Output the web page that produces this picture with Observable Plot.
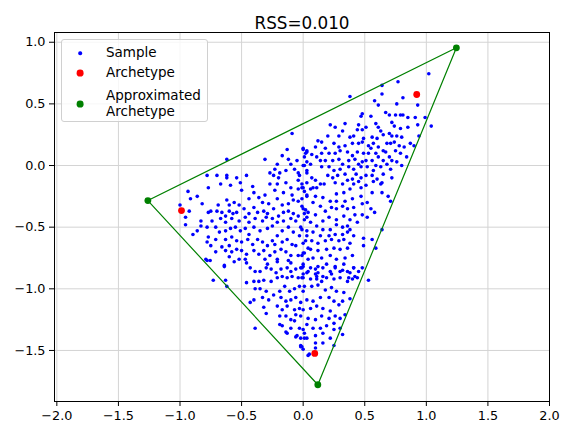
<!DOCTYPE html>
<html><head><meta charset="utf-8">
<script src="https://cdn.jsdelivr.net/npm/d3@7"></script>
<script src="https://cdn.jsdelivr.net/npm/@observablehq/plot@0.6"></script>
<style>
body{margin:0;background:#fff;font-family:"DejaVu Sans",sans-serif;}
#wrap{position:relative;width:569px;height:435px;}
.legend{position:absolute;left:61px;top:39px;width:147px;height:83px;border:1px solid #d0d0d0;border-radius:3px;background:rgba(255,255,255,0.8);font-size:13.5px;color:#000;box-sizing:border-box;}
.dot{position:absolute;border-radius:50%;transform:translate(-50%,-50%);}
.lab{position:absolute;left:44px;transform:translateY(-50%);line-height:15.7px;white-space:nowrap;}
</style>
</head><body>
<div id="wrap"></div>
<script>
const title = "RSS=0.010";
const xTicks = [-2.0, -1.5, -1.0, -0.5, 0.0, 0.5, 1.0, 1.5, 2.0];
const yTicks = [-1.5, -1.0, -0.5, 0.0, 0.5, 1.0];
const legendLabels = ["Sample", "Archetype", "Approximated\nArchetype"];
const archetypes = [[-0.988, -0.365], [0.922, 0.576], [0.094, -1.524]];
const approxArchetypes = [[-1.261, -0.284], [1.244, 0.955], [0.119, -1.778]];
const sample = [
// upper-left / outer band
[-0.09,0.26],[0.00,0.14],[0.03,0.12],[0.02,0.10],[-0.13,0.13],[-0.17,0.08],[-0.05,0.04],[-0.12,0.05],[-0.62,0.05],[-0.31,0.05],
[-0.10,0.01],[0.00,0.00],[0.03,0.03],[-0.21,0.01],[-0.23,-0.03],[-0.27,-0.06],[-0.14,-0.04],[-0.19,-0.06],[-0.07,-0.03],[-0.04,-0.06],
[-0.03,-0.08],[0.03,-0.04],[-0.78,-0.08],[-0.70,-0.08],[-0.62,-0.08],[-0.62,-0.10],[-0.54,-0.10],[-0.46,-0.08],[-0.24,-0.08],[-0.20,-0.10],
[-0.04,-0.12],[-0.01,-0.15],[0.03,-0.14],[-0.935,-0.21],[-0.04,-0.19],[0.01,-0.21],[0.03,-0.24],[-0.915,-0.27],[-0.04,-0.29],[0.00,-0.35],
[0.02,-0.36],[-1.00,-0.32],[-0.925,-0.37],[-0.955,-0.42],[-0.06,-0.45],[-0.04,-0.41],[0.01,-0.39],[0.03,-0.42],[-0.955,-0.48],[-0.895,-0.56],
[-0.02,-0.50],[0.03,-0.53],[-0.03,-0.57],[0.02,-0.61],[-0.06,-0.65],[0.00,-0.71],[0.04,-0.67],[-0.04,-0.73],[-0.78,-0.77],[-0.755,-0.77],
[-0.64,-0.81],[-0.56,-0.78],[-0.46,-0.79],[-0.29,-0.80],[-0.21,-0.78],[-0.10,-0.79],[0.00,-0.80],[0.04,-0.76],
// left lobe
[-0.77,-0.18],[-0.67,-0.15],[-0.59,-0.16],[-0.51,-0.14],[-0.41,-0.17],[-0.27,-0.15],[-0.21,-0.15],[-0.14,-0.14],[-0.10,-0.18],[-0.86,-0.25],
[-0.50,-0.20],[-0.40,-0.22],[-0.31,-0.24],[-0.23,-0.20],[-0.16,-0.22],[-0.09,-0.24],[-0.82,-0.31],[-0.75,-0.37],[-0.69,-0.32],[-0.62,-0.28],
[-0.60,-0.32],[-0.56,-0.30],[-0.52,-0.32],[-0.44,-0.27],[-0.36,-0.26],[-0.33,-0.30],[-0.28,-0.31],[-0.21,-0.27],[-0.17,-0.32],[-0.12,-0.31],
[-0.08,-0.28],[-0.77,-0.38],[-0.70,-0.37],[-0.66,-0.38],[-0.63,-0.41],[-0.60,-0.37],[-0.57,-0.39],[-0.54,-0.38],[-0.48,-0.35],[-0.44,-0.39],
[-0.40,-0.34],[-0.37,-0.38],[-0.32,-0.37],[-0.29,-0.39],[-0.24,-0.35],[-0.20,-0.41],[-0.16,-0.38],[-0.12,-0.37],[-0.08,-0.39],[-0.83,-0.45],
[-0.83,-0.49],[-0.74,-0.45],[-0.67,-0.43],[-0.63,-0.46],[-0.58,-0.43],[-0.52,-0.45],[-0.47,-0.42],[-0.44,-0.46],[-0.39,-0.43],[-0.33,-0.45],
[-0.30,-0.42],[-0.25,-0.43],[-0.21,-0.46],[-0.16,-0.45],[-0.10,-0.43],[-0.78,-0.50],[-0.71,-0.50],[-0.68,-0.54],[-0.63,-0.53],[-0.59,-0.51],
[-0.55,-0.50],[-0.51,-0.53],[-0.47,-0.51],[-0.44,-0.56],[-0.40,-0.50],[-0.35,-0.53],[-0.29,-0.51],[-0.25,-0.49],[-0.21,-0.57],[-0.17,-0.53],
[-0.12,-0.50],[-0.08,-0.54],[-0.86,-0.53],[-0.77,-0.58],[-0.78,-0.62],[-0.71,-0.60],[-0.63,-0.60],[-0.58,-0.58],[-0.54,-0.61],[-0.50,-0.62],
[-0.45,-0.60],[-0.41,-0.64],[-0.37,-0.60],[-0.33,-0.62],[-0.29,-0.65],[-0.25,-0.61],[-0.23,-0.64],[-0.17,-0.62],[-0.13,-0.60],[-0.09,-0.64],
[-0.75,-0.65],[-0.66,-0.66],[-0.60,-0.65],[-0.71,-0.70],[-0.63,-0.69],[-0.58,-0.70],[-0.54,-0.68],[-0.50,-0.69],[-0.46,-0.72],[-0.40,-0.69],
[-0.36,-0.72],[-0.32,-0.69],[-0.27,-0.73],[-0.23,-0.70],[-0.18,-0.68],[-0.14,-0.70],[-0.10,-0.73],[-0.79,-0.76],[-0.60,-0.74],[-0.52,-0.76],
[-0.47,-0.76],[-0.31,-0.76],[-0.21,-0.76],[-0.12,-0.77],
// upper-right tip and edges
[1.02,0.745],[0.64,0.65],[0.77,0.68],[0.38,0.56],[0.64,0.58],[0.58,0.525],[0.61,0.49],[0.81,0.55],[0.76,0.50],[0.93,0.49],
[0.99,0.39],[1.04,0.32],[0.12,0.20],[0.10,0.15],[0.10,-0.12],[0.07,-0.10],[0.06,0.01],[0.01,0.00],[0.00,0.13],[0.03,0.11],
[0.07,0.09],[0.11,0.07],[0.14,0.04],[0.14,-0.15],[-0.01,-0.18],[0.08,-0.18],[0.01,0.07],[0.03,-0.06],
// upper-right lobe
[0.48,0.42],[0.47,0.40],[0.55,0.40],[0.67,0.43],[0.70,0.41],[0.75,0.41],[0.79,0.41],[0.81,0.41],[0.85,0.39],[0.91,0.39],
[0.22,0.33],[0.26,0.31],[0.34,0.34],[0.45,0.33],[0.44,0.29],[0.48,0.29],[0.51,0.31],[0.59,0.34],[0.61,0.31],[0.63,0.28],
[0.72,0.35],[0.74,0.32],[0.79,0.30],[0.85,0.31],[0.93,0.33],[0.94,0.24],[0.20,0.24],[0.29,0.24],[0.32,0.28],[0.38,0.23],
[0.41,0.24],[0.49,0.22],[0.56,0.23],[0.60,0.22],[0.65,0.25],[0.70,0.26],[0.72,0.24],[0.76,0.24],[0.80,0.23],[0.71,0.18],
[0.15,0.19],[0.18,0.14],[0.25,0.18],[0.29,0.15],[0.34,0.16],[0.40,0.18],[0.45,0.18],[0.48,0.19],[0.53,0.16],[0.55,0.14],
[0.57,0.18],[0.61,0.15],[0.65,0.12],[0.68,0.18],[0.74,0.19],[0.78,0.16],[0.82,0.15],[0.87,0.18],[0.90,0.16],
[0.15,0.10],[0.21,0.10],[0.26,0.10],[0.30,0.12],[0.36,0.11],[0.40,0.08],[0.44,0.11],[0.49,0.10],[0.53,0.10],[0.59,0.10],
[0.61,0.07],[0.67,0.11],[0.70,0.07],[0.75,0.12],[0.79,0.10],[0.84,0.07],
[0.18,0.04],[0.24,0.04],[0.29,0.05],[0.32,0.01],[0.37,0.04],[0.42,0.05],[0.45,0.01],[0.48,0.03],[0.51,0.04],[0.56,0.04],
[0.59,0.00],[0.65,0.04],[0.68,0.01],[0.72,0.04],[0.76,0.03],[0.80,0.00],
[0.15,-0.01],[0.21,-0.01],[0.25,-0.04],[0.30,-0.03],[0.37,-0.01],[0.41,-0.03],[0.47,-0.01],[0.52,-0.01],[0.57,-0.04],[0.63,-0.01],
[0.65,-0.07],[0.71,-0.03],
[0.20,-0.08],[0.24,-0.10],[0.28,-0.08],[0.34,-0.07],[0.40,-0.11],[0.43,-0.07],[0.47,-0.10],[0.51,-0.08],[0.56,-0.08],[0.60,-0.11],
[0.64,-0.14],[0.72,-0.10],
[0.26,-0.14],[0.32,-0.15],[0.36,-0.12],[0.41,-0.15],[0.45,-0.13],[0.51,-0.16],[0.57,-0.13],[0.63,-0.15],[0.17,-0.15],
[0.38,-0.19],[0.47,-0.18],
// right centre
[0.00,-0.18],[0.06,-0.19],[0.11,-0.18],[0.27,-0.23],[0.33,-0.22],[0.47,-0.25],[0.56,-0.22],
[0.64,-0.22],[0.69,-0.25],[0.71,-0.29],[0.40,-0.27],[0.34,-0.29],[0.27,-0.29],[0.22,-0.29],[0.16,-0.26],[0.10,-0.25],[0.03,-0.25],
[-0.01,-0.27],[0.08,-0.30],[0.14,-0.33],[0.18,-0.37],[0.23,-0.34],[0.27,-0.35],[0.32,-0.33],[0.36,-0.35],[0.41,-0.34],[0.48,-0.31],
[0.52,-0.30],[0.55,-0.35],[0.58,-0.38],[0.48,-0.40],[0.42,-0.40],[0.38,-0.44],[0.33,-0.41],[0.27,-0.44],[0.21,-0.42],[0.16,-0.45],
[0.10,-0.40],[0.04,-0.38],[0.01,-0.44],[-0.01,-0.33],[0.06,-0.46],[0.11,-0.49],[0.16,-0.52],[0.22,-0.52],[0.27,-0.48],[0.32,-0.50],
[0.36,-0.49],[0.38,-0.52],[0.44,-0.46],[0.52,-0.42],[0.49,-0.59],[0.56,-0.60],[0.59,-0.67],[0.49,-0.65],[0.64,-0.52],[0.41,-0.57],
[0.36,-0.54],[0.32,-0.56],[0.26,-0.56],[0.21,-0.57],[0.14,-0.57],[0.08,-0.54],[0.03,-0.57],[-0.01,-0.52],[0.00,-0.63],[0.07,-0.61],
[0.12,-0.63],[0.18,-0.61],[0.23,-0.60],[0.29,-0.61],[0.33,-0.60],[0.38,-0.63],[0.36,-0.67],[0.30,-0.68],[0.25,-0.67],[0.19,-0.68],
[0.12,-0.69],[0.06,-0.68],[0.01,-0.71],[-0.01,-0.73],[0.08,-0.75],[0.15,-0.75],[0.22,-0.73],[0.27,-0.76],[0.34,-0.75],[0.40,-0.73],
[0.33,-0.80],[0.26,-0.82],[0.19,-0.80],[0.12,-0.82],[0.06,-0.83],[0.00,-0.82],[0.03,-0.87],[0.10,-0.88],[0.16,-0.90],[0.23,-0.88],
[0.30,-0.86],[0.36,-0.86],[0.41,-0.83],[0.42,-0.90],[0.37,-0.91],[0.11,-0.92],[-0.01,-0.91],
// lower-left of bottom lobe
[-0.64,-0.82],[-0.73,-0.93],[-0.63,-0.93],[-0.62,-0.98],[-0.43,-0.83],[-0.39,-0.86],[-0.35,-0.86],[-0.30,-0.83],[-0.26,-0.84],[-0.22,-0.87],
[-0.18,-0.84],[-0.13,-0.83],[-0.10,-0.86],[-0.06,-0.84],[-0.02,-0.83],[-0.46,-0.95],[-0.40,-0.94],[-0.36,-0.94],[-0.32,-0.93],[-0.26,-0.94],
[-0.21,-0.91],[-0.17,-0.90],[-0.13,-0.91],[-0.09,-0.90],[-0.04,-0.91],[0.00,-0.88],[-0.39,-1.00],[-0.35,-1.00],[-0.30,-1.02],[-0.24,-1.05],
[-0.19,-1.02],[-0.15,-0.98],[-0.11,-1.02],[-0.07,-1.00],[-0.03,-0.98],[0.00,-1.02],[-0.43,-1.11],[-0.40,-1.09],[-0.33,-1.07],[-0.28,-1.09],
[-0.18,-1.07],[-0.14,-1.10],[-0.10,-1.09],[-0.06,-1.07],[-0.02,-1.11],[-0.32,-1.15],[-0.30,-1.20],[-0.21,-1.14],[-0.17,-1.17],[-0.13,-1.14],
[-0.07,-1.17],[-0.03,-1.16],[-0.19,-1.22],[-0.14,-1.22],[-0.10,-1.25],[-0.06,-1.21],[-0.02,-1.22],[-0.39,-1.32],[-0.19,-1.29],[-0.17,-1.30],
[-0.10,-1.32],[-0.07,-1.26],[-0.03,-1.32],[0.00,-1.33],[-0.13,-1.36],[-0.06,-1.39],[-0.02,-1.40],[-0.02,-1.47],[0.00,-1.49],[0.01,-1.36],
[-0.05,-1.38],[-0.14,-1.35],[-0.02,-1.46],[0.05,-1.53],
// lower-right of bottom lobe
[-0.01,-0.83],[0.04,-0.86],[0.10,-0.84],[0.12,-0.87],[0.16,-0.83],[0.22,-0.86],[0.26,-0.83],[0.32,-0.85],[0.38,-0.87],[0.41,-0.83],
[0.45,-0.86],[0.48,-0.83],[0.00,-0.91],[0.06,-0.92],[0.11,-0.90],[0.15,-0.94],[0.19,-0.91],[0.25,-0.92],[0.30,-0.91],[0.36,-0.94],
[0.40,-0.92],[0.44,-0.91],[0.53,-0.93],[0.01,-0.98],[0.07,-0.98],[0.12,-0.97],[0.18,-1.01],[0.23,-0.99],[0.27,-1.02],[0.33,-1.03],
[0.38,-1.08],[0.03,-1.09],[0.08,-1.10],[0.14,-1.07],[0.21,-1.07],[0.25,-1.10],[0.29,-1.13],[0.32,-1.10],[0.00,-1.17],[0.06,-1.16],
[0.11,-1.14],[0.16,-1.16],[0.22,-1.18],[0.26,-1.22],[0.30,-1.24],[0.34,-1.21],[0.04,-1.24],[0.10,-1.25],[0.15,-1.22],[0.21,-1.24],
[0.25,-1.28],[0.30,-1.32],[0.03,-1.29],[0.08,-1.32],[0.14,-1.32],[0.19,-1.30],[0.25,-1.33],[0.32,-1.37],[0.01,-1.40],[0.10,-1.38],
[0.16,-1.36],[0.22,-1.40],[-0.01,-1.47],[0.03,-1.40],[0.10,-1.44],[0.16,-1.44],[0.25,-1.46],[0.10,-1.48],[0.04,-1.54]
];

const blue = "#0000ff", red = "#ff0000", green = "#008000";
const fmt = d => d.toFixed(1).replace("-", "\u2212");
const gx = d => d[0], gy = d => d[1];

const chart = Plot.plot({
  width: 569, height: 435,
  marginLeft: 54, marginRight: 20, marginTop: 32, marginBottom: 34,
  style: {fontFamily: "DejaVu Sans", fontSize: "12.8px", color: "black", background: "white", overflow: "visible"},
  x: {domain: [-2.019, 2.0]},
  y: {domain: [-1.914, 1.079]},
  marks: [
    Plot.gridX(xTicks, {stroke: "#d4d4d4", strokeOpacity: 1}),
    Plot.gridY(yTicks, {stroke: "#d4d4d4", strokeOpacity: 1}),
    Plot.dot(sample, {x: gx, y: gy, r: 1.8, fill: blue}),
    Plot.line([...approxArchetypes, approxArchetypes[0]], {x: gx, y: gy, stroke: green, strokeWidth: 1.2}),
    Plot.dot(archetypes, {x: gx, y: gy, r: 3.4, fill: red}),
    Plot.dot(approxArchetypes, {x: gx, y: gy, r: 3.4, fill: green}),
    Plot.frame({stroke: "black", strokeWidth: 1}),
    Plot.axisX(xTicks, {tickFormat: fmt, tickSize: 5, tickPadding: 4, label: null}),
    Plot.axisY(yTicks, {tickFormat: fmt, tickSize: 5, tickPadding: 4, label: null}),
    Plot.text([title], {frameAnchor: "top", dy: -15, fontSize: 16.8, text: d => d})
  ]
});
const wrap = document.getElementById("wrap");
wrap.appendChild(chart);

// legend
const lg = document.createElement("div");
lg.className = "legend";
const entries = [
  {label: legendLabels[0], color: blue, size: 3.6, y: 13},
  {label: legendLabels[1], color: red, size: 6.8, y: 33},
  {label: legendLabels[2], color: green, size: 6.8, y: 64}
];
for (const e of entries) {
  const d = document.createElement("div");
  d.className = "dot";
  d.style.left = "18px"; d.style.top = e.y + "px";
  d.style.width = e.size + "px"; d.style.height = e.size + "px";
  d.style.background = e.color;
  lg.appendChild(d);
  const t = document.createElement("div");
  t.className = "lab";
  t.style.top = e.y + "px";
  t.innerHTML = e.label.split("\n").join("<br>");
  lg.appendChild(t);
}
wrap.appendChild(lg);
</script>
</body></html>
